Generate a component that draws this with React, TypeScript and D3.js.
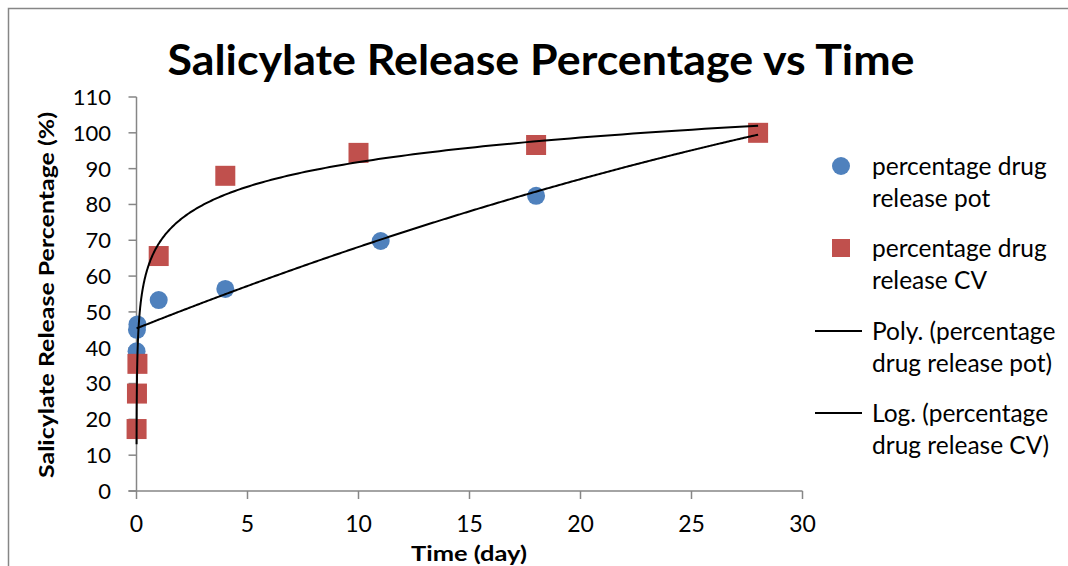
import React from "react";
import * as d3 from "d3";

// ---- data ----
const potDays = [0.0035, 0.0208, 0.0417, 1, 4, 11, 18, 28];
const potRelease = [39, 45, 46.5, 53.3, 56.4, 69.8, 82.4, 100];
const cvDays = [0.0035, 0.0208, 0.0417, 1, 4, 10, 18, 28];
const cvRelease = [17.3, 27.2, 35.5, 65.6, 88.0, 94.4, 96.6, 100];

const xTicks = [0, 5, 10, 15, 20, 25, 30];
const yTicks = [0, 10, 20, 30, 40, 50, 60, 70, 80, 90, 100, 110];

const title = "Salicylate Release Percentage vs Time";
const xTitle = "Time (day)";
const yTitle = "Salicylate Release Percentage (%)";
const legendItems = [
  { kind: "circle", lines: ["percentage drug", "release pot"] },
  { kind: "square", lines: ["percentage drug", "release CV"] },
  { kind: "line", lines: ["Poly. (percentage", "drug release pot)"] },
  { kind: "line", lines: ["Log. (percentage", "drug release CV)"] },
];

const BLUE = "#4F81BD";
const RED = "#C0504D";
const AXIS = "#868686";
const FONT = "Lato, 'Open Sans', sans-serif";

// least squares helpers for the Excel-style trendlines
function polyFit2(xs: number[], ys: number[]) {
  const n = xs.length;
  const s = [0, 0, 0, 0, 0];
  const t = [0, 0, 0];
  for (let i = 0; i < n; i++) {
    for (let k = 0; k < 5; k++) s[k] += Math.pow(xs[i], k);
    for (let k = 0; k < 3; k++) t[k] += ys[i] * Math.pow(xs[i], k);
  }
  const A = [
    [s[0], s[1], s[2], t[0]],
    [s[1], s[2], s[3], t[1]],
    [s[2], s[3], s[4], t[2]],
  ];
  for (let i = 0; i < 3; i++) {
    for (let j = i + 1; j < 3; j++) {
      const f = A[j][i] / A[i][i];
      for (let k = i; k < 4; k++) A[j][k] -= f * A[i][k];
    }
  }
  const c = [0, 0, 0];
  for (let i = 2; i >= 0; i--) {
    let v = A[i][3];
    for (let k = i + 1; k < 3; k++) v -= A[i][k] * c[k];
    c[i] = v / A[i][i];
  }
  return (x: number) => c[0] + c[1] * x + c[2] * x * x;
}

function logFit(xs: number[], ys: number[]) {
  const lx = xs.map(Math.log);
  const mx = d3.mean(lx)!;
  const my = d3.mean(ys)!;
  let sxy = 0, sxx = 0;
  lx.forEach((v, i) => {
    sxy += (v - mx) * (ys[i] - my);
    sxx += (v - mx) * (v - mx);
  });
  const a = sxy / sxx;
  const b = my - a * mx;
  return (x: number) => a * Math.log(x) + b;
}

export default function App() {
  const x = d3.scaleLinear().domain([0, 30]).range([136.5, 802.5]);
  const y = d3.scaleLinear().domain([0, 110]).range([491, 97]);

  const potFn = polyFit2(potDays, potRelease);
  const cvFn = logFit(cvDays, cvRelease);

  const sample = (lo: number, hi: number, f: (v: number) => number, log: boolean) => {
    const pts: [number, number][] = [];
    const N = 400;
    for (let i = 0; i <= N; i++) {
      const t = i / N;
      const v = log ? Math.exp(Math.log(lo) + t * (Math.log(hi) - Math.log(lo))) : lo + t * (hi - lo);
      pts.push([x(v), y(f(v))]);
    }
    return d3.line()(pts) || "";
  };

  const potPath = sample(d3.min(potDays)!, d3.max(potDays)!, potFn, false);
  const cvPath = sample(d3.min(cvDays)!, d3.max(cvDays)!, cvFn, true);

  const legendY = [166, 248, 331, 413];

  return (
    <svg width={1068} height={566} style={{ display: "block", position: "absolute", left: 0, top: 0 }}>
      <rect x={0} y={0} width={1068} height={566} fill="#fff" />
      <path d="M8.5,566 V8.5 H1068" fill="none" stroke={AXIS} strokeWidth={1.5} />

      <text x={541} y={75} textAnchor="middle" fontFamily={FONT} fontWeight="bold" fontSize={42}
        textLength={747} lengthAdjust="spacingAndGlyphs">{title}</text>

      {/* y axis */}
      <line x1={x(0)} x2={x(0)} y1={y(110)} y2={y(0)} stroke={AXIS} strokeWidth={1.5} />
      {yTicks.map((t) => (
        <g key={"y" + t}>
          <line x1={x(0) - 8} x2={x(0)} y1={y(t)} y2={y(t)} stroke={AXIS} strokeWidth={1.5} />
          <text x={111} y={y(t)} dy="0.36em" textAnchor="end" fontFamily={FONT} fontSize={22}>{t}</text>
        </g>
      ))}
      {/* x axis */}
      <line x1={x(0) - 8} x2={x(30)} y1={y(0)} y2={y(0)} stroke={AXIS} strokeWidth={1.5} />
      {xTicks.map((t) => (
        <g key={"x" + t}>
          <line x1={x(t)} x2={x(t)} y1={y(0)} y2={y(0) + 8} stroke={AXIS} strokeWidth={1.5} />
          <text x={x(t)} y={532} textAnchor="middle" fontFamily={FONT} fontSize={23}>{t}</text>
        </g>
      ))}

      <text x={469} y={561} textAnchor="middle" fontFamily={FONT} fontWeight="bold" fontSize={21}
        textLength={116} lengthAdjust="spacingAndGlyphs">{xTitle}</text>
      <text transform={`translate(54,${295}) rotate(-90)`} textAnchor="middle" fontFamily={FONT}
        fontWeight="bold" fontSize={21} textLength={366} lengthAdjust="spacingAndGlyphs">{yTitle}</text>

      {/* markers */}
      {potDays.map((d, i) => (
        <circle key={"p" + i} cx={x(d)} cy={y(potRelease[i])} r={9} fill={BLUE} />
      ))}
      {cvDays.map((d, i) => (
        <rect key={"c" + i} x={x(d) - 10} y={y(cvRelease[i]) - 10} width={20} height={20} fill={RED} />
      ))}

      {/* trendlines */}
      <path d={potPath} fill="none" stroke="#000" strokeWidth={2} />
      <path d={cvPath} fill="none" stroke="#000" strokeWidth={2} />

      {/* legend */}
      {legendItems.map((it, i) => (
        <g key={"l" + i}>
          {it.kind === "circle" && <circle cx={841} cy={legendY[i]} r={9} fill={BLUE} />}
          {it.kind === "square" && <rect x={832} y={legendY[i] - 9} width={18} height={18} fill={RED} />}
          {it.kind === "line" && <line x1={815} x2={862} y1={legendY[i]} y2={legendY[i]} stroke="#000" strokeWidth={2} />}
          {it.lines.map((s, j) => (
            <text key={j} x={872} y={legendY[i] + j * 32} dy="0.36em" fontFamily={FONT} fontSize={24.5}>{s}</text>
          ))}
        </g>
      ))}
    </svg>
  );
}
